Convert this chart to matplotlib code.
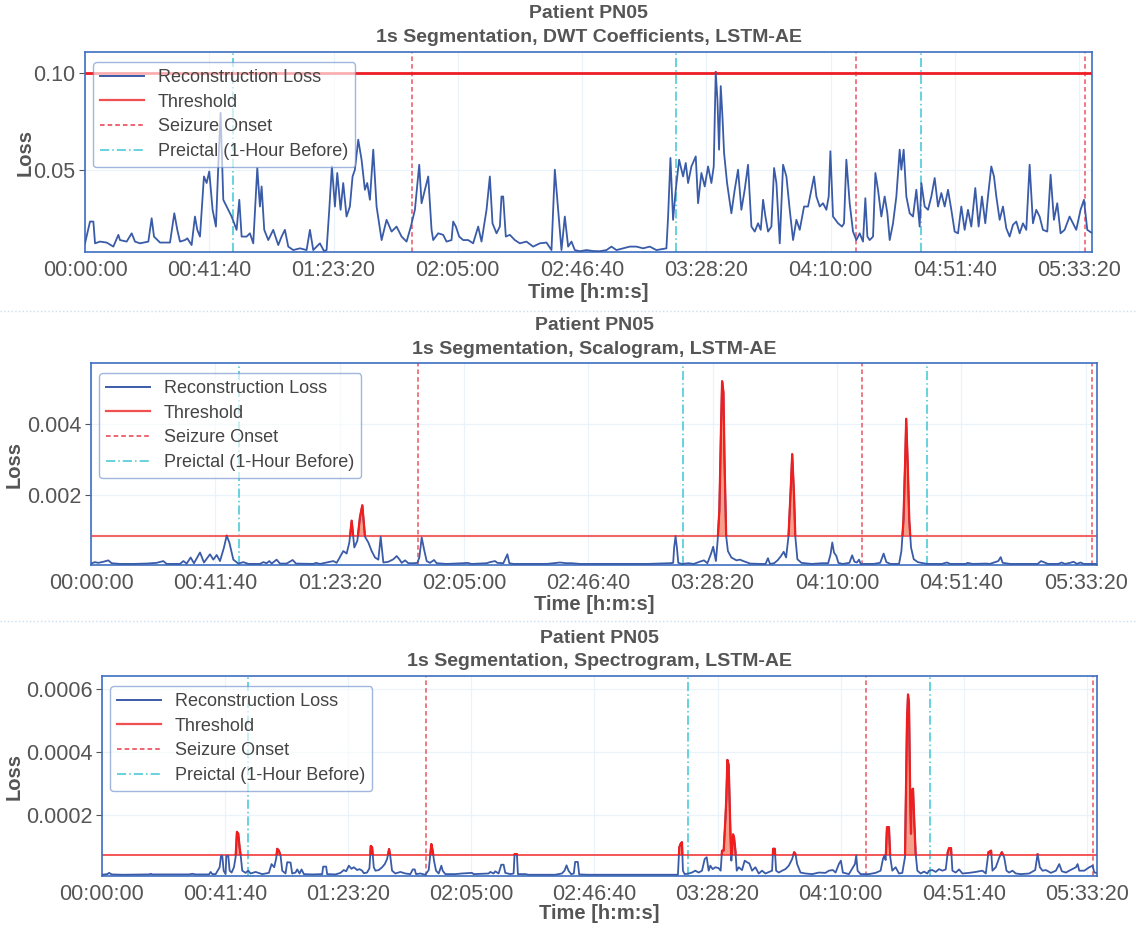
import numpy as np
import matplotlib
matplotlib.use('Agg')
import matplotlib.pyplot as plt
from matplotlib.patches import Rectangle
from matplotlib.lines import Line2D
from matplotlib.ticker import FuncFormatter

plt.rcParams['font.family'] = ['Liberation Sans', 'DejaVu Sans']

# ---------------- data (time in seconds, loss values) ----------------
p1_t = [0, 101, 168, 202, 302, 436, 570, 671, 704, 838, 939, 1006, 1106, 1274, 1341, 1388, 1509, 1710, 1797, 1857,
        1911, 2011, 2058, 2145, 2212, 2259, 2313, 2393, 2447, 2500, 2567, 2634, 2681, 2728, 2782, 2849, 2950, 3050,
        3104, 3151, 3251, 3318, 3385, 3466, 3519, 3553, 3606, 3687, 3787, 3888, 3955, 4022, 4089, 4190, 4324, 4458,
        4525, 4592, 4726, 4807, 4860, 4914, 4967, 5028, 5075, 5142, 5195, 5262, 5329, 5383, 5430, 5497, 5564, 5631,
        5678, 5732, 5799, 5866, 5967, 6067, 6168, 6268, 6369, 6469, 6556, 6637, 6724, 6771,
        6905, 6972, 7005, 7106, 7206, 7273, 7374, 7407, 7461, 7528, 7608, 7709, 7809, 7910, 7977, 8078, 8145, 8198,
        8279, 8346, 8379, 8413, 8466, 8547, 8647, 8748, 8882, 9016, 9150, 9284, 9385, 9452, 9519, 9586, 9653, 9720,
        9787, 9854, 9955, 10089, 10223, 10357, 10491, 10591, 10692, 10826, 10960, 11094, 11228, 11362, 11496, 11697,
        11731, 11778, 11831, 11885, 11952, 12032, 12086, 12133, 12200, 12287, 12334, 12401, 12468, 12535, 12602,
        12649, 12689, 12723, 12756, 12790, 12824, 12857, 12917, 13004, 13071, 13138, 13205, 13272, 13339, 13407,
        13474, 13541, 13595, 13642, 13689, 13742, 13809, 13863, 13910, 13977, 14044, 14111, 14178, 14245, 14312,
        14379, 14466, 14546, 14614, 14667, 14714, 14781, 14848, 14915, 14962, 14996, 15049, 15150, 15230, 15270,
        15317, 15384, 15451, 15518, 15585, 15652, 15699, 15740, 15787, 15854, 15901, 15954, 16021, 16088, 16142,
        16189, 16256, 16323, 16390, 16423, 16470, 16524, 16591, 16658, 16725, 16792, 16826, 16893, 16960, 17027,
        17094, 17161, 17228, 17295, 17362, 17429, 17496, 17563, 17630, 17697, 17764, 17831, 17911, 17978, 18045,
        18112, 18166, 18233, 18287, 18334, 18401, 18468, 18535, 18602, 18669, 18736, 18803, 18870, 18937, 19004,
        19071, 19138, 19205, 19272, 19359, 19426, 19493, 19560, 19627, 19708, 19808, 19875, 19942, 20029, 20097,
        20164, 20244]
p1_loss = [.0118, .0231, .0231, .0118, .0127, .0122, .0101, .0162, .0135, .0127, .0170, .0127, .0118, .0127, .0248,
           .0153, .0122, .0122, .0274, .0188, .0127, .0135, .0144, .0109, .0257, .0188, .0153, .0465, .0431, .0491,
           .0292, .0205, .0517, .0795, .0344, .0309, .0257, .0188, .0344, .0153, .0153, .0170, .0118, .0509, .0309,
           .0413, .0188, .0135, .0188, .0109, .0153, .0188, .0101, .0083, .0092, .0083, .0188, .0083, .0118, .0078,
           .0083, .0292, .0517, .0309, .0483, .0292, .0431, .0257, .0309, .0465, .0500, .0656, .0552, .0396, .0431,
           .0344, .0604, .0309, .0135, .0240, .0179, .0205, .0153, .0127, .0205, .0292, .0526, .0326,
           .0465, .0188, .0135, .0170, .0162, .0127, .0135, .0231, .0205, .0153, .0135, .0135, .0118, .0205, .0127,
           .0292, .0465, .0222, .0170, .0205, .0361, .0361, .0153, .0162, .0135, .0118, .0127, .0101, .0118, .0122,
           .0083, .0500, .0292, .0083, .0257, .0101, .0127, .0083, .0077, .0083, .0078, .0077, .0083, .0101, .0083,
           .0092, .0101, .0101, .0092, .0101, .0083, .0092, .0257, .0561, .0240, .0396, .0552, .0465, .0535, .0431,
           .0517, .0569, .0326, .0483, .0413, .0517, .0431, .0517, .1007, .0865, .0604, .0934, .0778, .0587, .0431,
           .0274, .0396, .0500, .0292, .0396, .0526, .0205,
           .0179, .0222, .0188, .0344, .0257, .0179, .0205, .0509, .0431, .0118, .0526, .0465, .0292, .0135, .0240,
           .0188, .0309, .0309, .0396, .0465, .0361, .0309, .0326, .0292, .0361, .0596, .0257, .0222, .0205, .0222,
           .0552, .0326, .0179, .0135, .0170, .0127, .0352, .0153, .0135, .0153, .0483, .0396, .0257, .0361, .0274,
           .0135, .0222, .0361, .0604, .0500, .0604, .0361, .0274, .0257, .0396, .0205, .0431, .0309, .0292, .0361,
           .0457, .0309, .0379, .0309, .0396, .0292, .0179, .0170, .0309, .0188, .0292, .0205, .0405, .0205, .0361,
           .0222, .0361, .0517, .0465, .0361, .0240, .0309, .0196, .0153, .0214, .0231, .0170, .0222, .0188, .0526,
           .0222, .0292, .0257, .0188, .0179, .0474, .0240, .0326, .0170, .0188, .0257, .0222, .0188, .0292, .0344,
           .0188, .0174]

p2_t = [0, 80, 147, 248, 348, 415, 583, 851, 1119, 1320, 1454, 1522, 1790, 1857, 1924, 2004, 2071, 2192, 2272, 2393,
        2460, 2527, 2594, 2674, 2728, 2782, 2862, 2963, 3063, 3164, 3398, 3465, 3532, 3586, 3633, 3733, 3800, 3935,
        4055, 4122, 4471, 4524, 4605, 4873, 4940, 5074, 5141, 5195, 5242, 5295, 5356, 5409, 5456, 5510, 5577, 5644,
        5711, 5778, 5825, 5879, 5980, 6080, 6147, 6201, 6248, 6315, 6382, 6482, 6563, 6603, 6650, 6697, 6750, 6817,
        6898, 6951, 7153, 7488, 7568, 7655, 7957, 8024, 8125, 8172, 8292, 8373, 8413, 8493, 9164, 9432, 9566, 9666,
        9834, 10504, 11174, 11644, 11707, 11727, 11755, 11782, 11810, 11879, 12016, 12120, 12257, 12326, 12395,
        12464, 12512, 12567, 12601, 12636, 12670, 12691, 12718, 12739, 12773, 12808, 12877, 12980, 13049, 13118,
        13255, 13462, 13565, 13613, 13654, 13737, 13806, 13875, 13930, 13978, 14026, 14067, 14101, 14136, 14163,
        14205, 14287, 14494, 14700, 14824, 14872, 14907, 14941, 14989, 15030, 15113, 15251, 15306, 15354, 15402,
        15444, 15478, 15733, 15870, 15939, 15994, 16077, 16249, 16297, 16338, 16373, 16393, 16421, 16455, 16490,
        16545, 16627, 16696, 16820, 16971, 17109, 17212, 17281, 17591, 17625, 17728, 18003, 18072, 18245, 18293,
        18334, 18485, 19036, 19105, 19160, 19242, 19449, 19518, 19587, 19690, 19759, 19828, 19896, 19965, 20103,
        20206]
p2_loss = [.00009, .00013, .00011, .00014, .00018, .0001, .00008, .00008, .00009, .00011, .00016, .00008, .00008,
           .00016, .00009, .00026, .0001, .0004, .00012, .00035, .0002, .00033, .00016, .00054, .00087, .00068, .0002,
           .00009, .00013, .00008, .00008, .00013, .0001, .00016, .00009, .0002, .00009, .00009, .00019, .00009,
           .00008, .00011, .00008, .00016, .00011, .00044, .00037, .00068, .00129, .00054, .00073, .00139, .00172,
           .00084, .00068, .00044, .00026, .0002, .00084, .00012, .00014, .00021, .0003, .00021, .00011, .00018,
           .0001, .0001, .00011, .00026, .00082, .00049, .00016, .00011, .00019, .0001, .00008, .0001, .00011, .00008,
           .0001, .00013, .00016, .00011, .0001, .00035, .0001, .00008, .00008, .00012, .0001, .0001, .00008, .00008,
           .00008, .0001, .00011, .00054, .00085, .00054, .00011, .00008, .0001, .00008, .00015, .00018, .0001,
           .00035, .00056, .00016, .00073, .00158, .00393, .00519, .00488, .00299, .00085, .00044, .00026, .00018,
           .0002, .00016, .00009, .00008, .00008, .00024, .00008, .0001, .00018, .0003, .00042, .00026, .00085,
           .00205, .00315, .00205, .00085, .00021, .00011, .00008, .0001, .0001, .00035, .00068, .0004, .0003, .00011,
           .00008, .00011, .00032, .00014, .00012, .0002, .00008, .00008, .00011, .00037, .00013, .00008, .00008,
           .00044, .0013, .00299, .00414, .00299, .0013, .00054, .00021, .00013, .00011, .00008, .00008, .00008,
           .00012, .00008, .00008, .00011, .00008, .00009, .00008, .00016, .00027, .00011, .00008, .00008, .00016,
           .00013, .00008, .00008, .00012, .00008, .00011, .00014, .00008, .00012, .00008, .00008, .00008]

p3_t = [0, 111, 144, 198, 415, 956, 989, 1023, 1767, 1834, 1902, 2172, 2206, 2240, 2308, 2389, 2416, 2443, 2470,
        2510, 2524, 2564, 2592, 2632, 2679, 2713, 2740, 2767, 2794, 2815, 2848, 2916, 2970, 3017, 3119, 3254, 3389,
        3443, 3497, 3538, 3558, 3592, 3626, 3660, 3727, 3761, 3829, 3862, 3930, 3964, 4011, 4052, 4099, 4268, 4471,
        4491, 4552, 4572, 4741, 4843, 4910, 4958, 5012, 5066, 5113, 5181, 5228, 5282, 5316, 5383, 5431, 5458, 5485,
        5519, 5552, 5620, 5688, 5742, 5789, 5830, 5857, 5890, 5958, 6059, 6161, 6262, 6310, 6350, 6377, 6465, 6566,
        6634, 6661, 6688, 6715, 6742, 6783, 6837, 6891, 6918, 6972, 7175, 7310, 7513, 7547, 7851, 7885, 7952, 7986,
        8054, 8108, 8155, 8189, 8290, 8358, 8378, 8425, 8446, 8594, 8662, 9203, 9338, 9392, 9433, 9473, 9527, 9581,
        9608, 9662, 9690, 9879,
        10014, 10692, 11370, 11695, 11723, 11750, 11777, 11797, 11831, 11912, 11980, 12048, 12116, 12184, 12238,
        12279, 12319, 12353, 12401, 12455, 12523, 12563, 12590, 12624, 12658, 12679, 12699, 12726, 12746, 12760,
        12780, 12794, 12814, 12834, 12862, 12889, 12929, 12997, 13051, 13099, 13146, 13201, 13268, 13336, 13404,
        13472, 13607, 13628, 13662, 13689, 13743, 13811, 13879, 13946, 14014, 14055, 14082, 14116, 14184, 14285,
        14421, 14557, 14692, 14760, 14841, 14896, 14963, 15004, 15045, 15167, 15289, 15316, 15343, 15404, 15574,
        15709, 15811, 15858, 15885, 15913, 15940, 15980, 16007, 16048, 16116, 16184, 16252, 16306, 16347, 16367,
        16387, 16414, 16428, 16441, 16469, 16496, 16523, 16557, 16625, 16692, 16760, 16794, 16862, 16930, 16997,
        17065, 17133, 17174, 17201, 17241, 17269, 17336, 17404, 17472, 17608, 17743, 17879, 17947, 18001, 18055,
        18082, 18150, 18218, 18272, 18320, 18367, 18421, 18489, 18557, 18659, 18828, 18950, 18998, 19045, 19099,
        19167, 19269, 19370, 19438, 19492, 19574, 19642, 19777, 19811, 19845, 19947, 20048, 20116, 20150, 20204]
p3_loss = [8e-6, 10e-6, 14e-6, 9e-6, 8e-6, 9e-6, 11e-6, 9e-6, 9e-6, 11e-6, 9e-6, 9e-6, 17e-6, 10e-6, 10e-6, 32e-6,
           68e-6, 68e-6, 21e-6, 10e-6, 68e-6, 68e-6, 21e-6, 15e-6, 32e-6, 64e-6, 145e-6, 139e-6, 96e-6, 71e-6, 21e-6,
           14e-6, 21e-6, 12e-6, 17e-6, 10e-6, 14e-6, 42e-6, 32e-6, 61e-6, 91e-6, 85e-6, 69e-6, 21e-6, 12e-6, 48e-6,
           47e-6, 12e-6, 15e-6, 25e-6, 12e-6, 25e-6, 10e-6, 9e-6, 10e-6, 34e-6, 34e-6, 10e-6, 9e-6, 14e-6, 23e-6,
           19e-6, 37e-6, 27e-6, 32e-6, 23e-6, 26e-6, 21e-6, 13e-6, 15e-6, 29e-6, 100e-6, 96e-6, 32e-6, 21e-6, 23e-6,
           32e-6, 42e-6, 58e-6, 90e-6, 64e-6, 21e-6, 12e-6, 17e-6, 12e-6, 10e-6, 25e-6, 25e-6, 10e-6, 12e-6, 8e-6,
           23e-6, 64e-6, 106e-6, 85e-6, 53e-6, 21e-6, 12e-6, 37e-6, 21e-6, 10e-6, 10e-6, 12e-6, 14e-6, 10e-6, 12e-6,
           17e-6, 12e-6, 19e-6, 12e-6, 40e-6, 40e-6, 14e-6, 10e-6, 12e-6, 74e-6, 74e-6, 10e-6, 10e-6, 8e-6, 8e-6,
           12e-6, 21e-6, 38e-6, 21e-6, 10e-6, 12e-6, 49e-6, 49e-6, 9e-6, 8e-6,
           8e-6, 8e-6, 8e-6, 8e-6, 96e-6, 107e-6, 112e-6, 21e-6, 10e-6, 12e-6, 15e-6, 21e-6, 15e-6, 21e-6, 58e-6,
           64e-6, 21e-6, 37e-6, 26e-6, 32e-6, 29e-6, 21e-6, 85e-6, 85e-6, 182e-6, 257e-6, 375e-6, 359e-6, 235e-6,
           149e-6, 53e-6, 85e-6, 137e-6, 128e-6, 85e-6, 21e-6, 32e-6, 23e-6, 53e-6, 48e-6, 44e-6, 21e-6, 32e-6,
           12e-6, 21e-6, 12e-6, 21e-6, 91e-6, 91e-6, 21e-6, 15e-6, 21e-6, 26e-6, 37e-6, 58e-6, 80e-6, 74e-6, 42e-6,
           15e-6, 12e-6, 10e-6, 15e-6, 14e-6, 21e-6, 23e-6, 15e-6, 42e-6, 53e-6, 15e-6, 10e-6, 42e-6, 69e-6, 21e-6,
           10e-6, 10e-6, 14e-6, 21e-6, 58e-6, 69e-6, 55e-6, 160e-6, 160e-6, 64e-6, 21e-6, 32e-6, 12e-6, 14e-6, 64e-6,
           503e-6, 584e-6, 557e-6, 235e-6, 139e-6, 278e-6, 283e-6, 171e-6, 74e-6, 21e-6, 12e-6, 18e-6, 12e-6, 21e-6,
           23e-6, 17e-6, 26e-6, 21e-6, 25e-6, 80e-6, 93e-6, 93e-6, 21e-6, 15e-6, 25e-6, 12e-6, 14e-6, 17e-6, 21e-6,
           12e-6, 80e-6, 85e-6, 21e-6, 32e-6, 62e-6, 80e-6, 64e-6, 21e-6, 15e-6, 21e-6, 12e-6, 10e-6, 12e-6, 23e-6,
           74e-6, 32e-6, 21e-6, 23e-6, 14e-6, 21e-6, 42e-6, 19e-6, 15e-6, 21e-6, 32e-6, 42e-6, 21e-6, 21e-6, 32e-6,
           37e-6, 15e-6, 14e-6]

thresholds = [0.1003, 0.00085, 0.0000715]
onsets = [6570, 15505, 20124]
preictals = [2970, 11899, 16812]
titles = ['1s Segmentation, DWT Coefficients, LSTM-AE',
          '1s Segmentation, Scalogram, LSTM-AE',
          '1s Segmentation, Spectrogram, LSTM-AE']
yticks = [[0.05, 0.10], [0.002, 0.004], [0.0002, 0.0004, 0.0006]]
ylims = [(0.0073, 0.1111), (0.00005, 0.0057), (0.000004, 0.000643)]
xmaxs = [20259, 20230, 20205]
tick_fmt = ['{:.2f}', '{:.3f}', '{:.4f}']

# ---------------- layout (pixels) ----------------
W, H = 1136, 930
# left, right, top, bottom, title1 y, title2 y, xlabel y, ylabel x
boxes = [(85, 1092, 52, 252, 14, 38, 292, 25),
         (91, 1097, 363, 565, 325, 350, 604, 14),
         (102, 1097, 676, 876, 638, 661, 913, 14)]

blue = '#3A5BA8'
grey = '#555555'
thr_col = ['#EE1C25', '#F06666', '#F23A3A']
thr_lw = [2.0, 1.5, 1.2]


def hms(x, pos):
    s = int(round(x))
    return '{:02d}:{:02d}:{:02d}'.format(s // 3600, (s % 3600) // 60, s % 60)


fig = plt.figure(figsize=(W / 100, H / 100), dpi=100)
series = [(p1_t, p1_loss), (p2_t, p2_loss), (p3_t, p3_loss)]

for i, (tt, vv) in enumerate(series):
    l, r, top, bot, ty1, ty2, xly, ylx = boxes[i]
    ax = fig.add_axes([l / W, 1 - bot / H, (r - l) / W, (bot - top) / H])
    t = np.array(tt, dtype=float)
    v = np.array(vv, dtype=float)
    thr = thresholds[i]

    ax.plot(t, v, color=blue, lw=1.3, zorder=3)
    # above-threshold part: red fill + red line (clipped)
    ax.fill_between(t, thr, v, where=v >= thr, interpolate=True, color='#F4876E', alpha=0.8, lw=0, zorder=2)
    red, = ax.plot(t, v, color='#F01E1E', lw=1.6, zorder=4)
    clip = Rectangle((-1000, thr), 30000, 1.0, transform=ax.transData)
    red.set_clip_path(clip)

    ax.axhline(thr, color=thr_col[i], lw=thr_lw[i], zorder=2.5)
    for x in onsets:
        ax.axvline(x, color='#E8394A', ls=(0, (3, 2)), lw=1.1, alpha=0.85, zorder=2)
    for x in preictals:
        ax.axvline(x, color='#3EC6D3', ls=(0, (6, 2, 1, 2)), lw=1.1, zorder=2)

    ax.set_xlim(0, xmaxs[i])
    ax.set_ylim(*ylims[i])
    ax.set_xticks(np.arange(0, 20001, 2500))
    ax.xaxis.set_major_formatter(FuncFormatter(hms))
    ax.set_yticks(yticks[i])
    ax.set_yticklabels([tick_fmt[i].format(y) for y in yticks[i]])
    ax.tick_params(labelsize=15.5, colors=grey, length=4, width=0.8, pad=3)
    ax.tick_params(axis='x', length=0, pad=6)
    ax.grid(True, color='#EAF2FA', lw=0.9, zorder=0)
    ax.set_axisbelow(True)
    for s in ax.spines.values():
        s.set_color('#3D6FC0')
        s.set_linewidth(1.2)

    handles = [Line2D([], [], color=blue, lw=1.4),
               Line2D([], [], color='#F05050', lw=1.6),
               Line2D([], [], color='#E8394A', ls=(0, (3, 2)), lw=1.1),
               Line2D([], [], color='#3EC6D3', ls=(0, (6, 2, 1, 2)), lw=1.1)]
    labels = ['Reconstruction Loss', 'Threshold', 'Seizure Onset', 'Preictal (1-Hour Before)']
    aw, ah = r - l, bot - top
    leg = ax.legend(handles, labels, loc='upper left', bbox_to_anchor=(8 / aw, 1 - 10 / ah),
                    borderaxespad=0, fontsize=13, labelcolor='#444444', frameon=True, fancybox=True,
                    framealpha=0.65, edgecolor='#6F8FCB', handlelength=2.4, handletextpad=0.8,
                    labelspacing=0.42, borderpad=0.4)
    leg.get_frame().set_linewidth(1.0)
    leg.set_zorder(6)

    cx = (l + r) / 2 / W
    fig.text(cx, 1 - ty1 / H, 'Patient PN05', ha='center', va='center', fontsize=14, fontweight='bold', color=grey)
    fig.text(cx, 1 - ty2 / H, titles[i], ha='center', va='center', fontsize=14, fontweight='bold', color=grey)
    fig.text(cx, 1 - xly / H, 'Time [h:m:s]', ha='center', va='center', fontsize=14.5, fontweight='bold', color=grey)
    fig.text(ylx / W, 1 - (top + bot) / 2 / H, 'Loss', ha='center', va='center', rotation=90,
             fontsize=14.5, fontweight='bold', color=grey)

# dotted separators between the stacked figures
for y in [311, 621]:
    fig.add_artist(Line2D([0, 1], [1 - y / H, 1 - y / H], transform=fig.transFigure,
                          ls=':', color='#C9DFF0', lw=1.0))

fig.savefig('out.png', dpi=100)
